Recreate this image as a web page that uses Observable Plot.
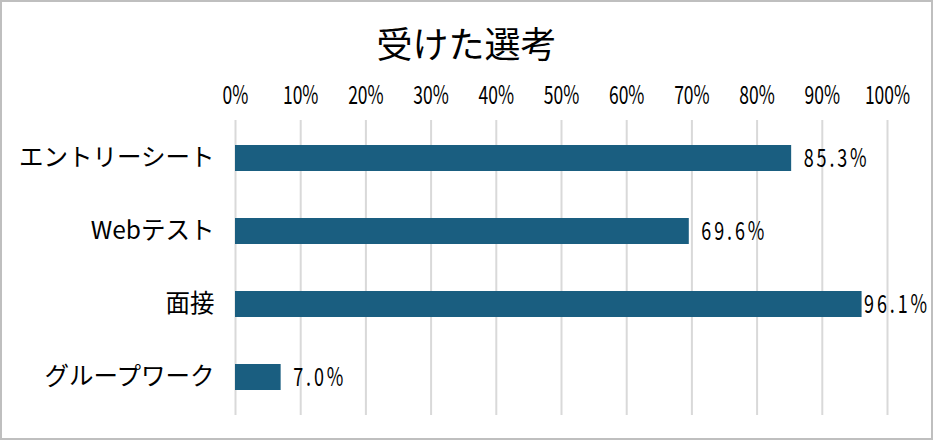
<!DOCTYPE html>
<html>
<head>
<meta charset="utf-8">
<script src="https://cdn.jsdelivr.net/npm/d3@7"></script>
<script src="https://cdn.jsdelivr.net/npm/@observablehq/plot@0.6"></script>
<style>
  html, body { margin: 0; padding: 0; background: #fff; }
  #wrap { width: 933px; height: 440px; box-sizing: border-box; border: 2px solid #bfbfbf; background: #fff; overflow: hidden; }
  #title { height: 68px; margin: 0; text-align: center; font-family: "Noto Sans CJK JP", sans-serif; font-weight: normal; font-size: 36px; line-height: 80px; color: #000; }
  #chart svg { display: block; }
</style>
</head>
<body>
<div id="wrap">
  <h1 id="title">受けた選考</h1>
  <div id="chart"></div>
</div>
<script>
const categories = ["エントリーシート", "Webテスト", "面接", "グループワーク"];
const values = [85.3, 69.6, 96.1, 7.0];
const tickValues = [0, 10, 20, 30, 40, 50, 60, 70, 80, 90, 100];

const data = categories.map((c, i) => ({category: c, value: values[i]}));
const font = '"Noto Sans CJK JP", "Noto Sans", sans-serif';
const fmt = d => d.value.toFixed(1) + "%";

const chart = Plot.plot({
  width: 929,
  height: 368,
  marginTop: 50,
  marginBottom: 23,
  marginLeft: 233,
  marginRight: 44,
  style: {fontFamily: font, fontSize: "25px", color: "#000", background: "#fff"},
  x: {domain: [0, 100], axis: null},
  y: {domain: categories, paddingInner: 0.65, paddingOuter: 0.325, axis: null},
  marks: [
    Plot.gridX(tickValues, {stroke: "#d9d9d9", strokeOpacity: 1, strokeWidth: 2}),
    Plot.axisX(tickValues, {anchor: "top", label: null, tickSize: 0, tickPadding: 17, tickFormat: d => d + "%", fontSize: 25}),
    Plot.barX(data, {x: "value", y: "category", fill: "#1a5e80"}),
    Plot.text(data, {filter: d => d.value <= 90, x: "value", y: "category", text: fmt, textAnchor: "start", dx: 12, fontSize: 25, fill: "#000"}),
    Plot.text(data, {filter: d => d.value > 90, x: "value", y: "category", text: fmt, textAnchor: "start", dx: 2, fontSize: 25, fill: "#000"}),
    Plot.axisY(categories, {anchor: "left", label: null, tickSize: 0, tickPadding: 21, fontSize: 24.5})
  ]
});

// condense the numeric (percent) labels horizontally
const labelSet = new Set(data.map(fmt));
chart.querySelectorAll("text").forEach(t => {
  const s = t.textContent.trim();
  if (!s.endsWith("%")) return;
  let tr = t.getAttribute("transform");
  if (!tr) {
    const x = t.getAttribute("x") || 0, y = t.getAttribute("y") || 0;
    t.removeAttribute("x"); t.removeAttribute("y");
    tr = `translate(${x},${y})`;
  }
  if (labelSet.has(s)) {
    t.setAttribute("transform", tr + " scale(0.72,1)");
    t.setAttribute("letter-spacing", "4");
  } else {
    t.setAttribute("transform", tr + " scale(0.7,1)");
  }
});

document.getElementById("chart").appendChild(chart);
</script>
</body>
</html>
